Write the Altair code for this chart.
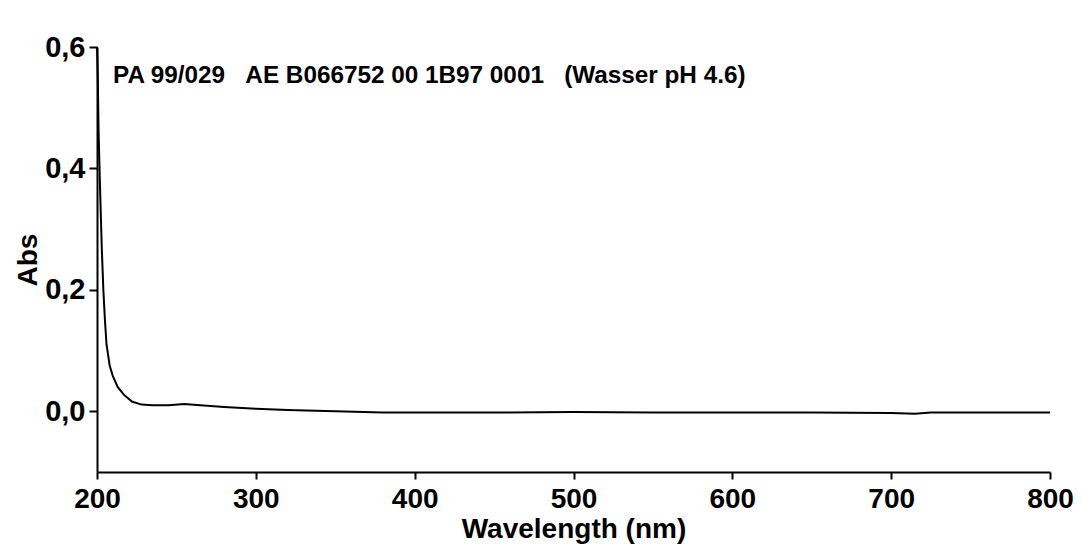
import altair as alt
import pandas as pd

wavelength = [200, 200.5, 201, 202, 203, 204, 205, 206, 208, 210, 213, 217, 222, 228,
              235, 245, 255, 265, 280, 300, 320, 350, 380, 400, 450, 500, 550, 600,
              650, 700, 715, 725, 735, 750, 800]
absorbance = [0.60, 0.55, 0.46, 0.36, 0.27, 0.20, 0.15, 0.11, 0.075, 0.058, 0.040, 0.027,
              0.016, 0.011, 0.010, 0.010, 0.012, 0.010, 0.007, 0.004, 0.002, 0.000,
              -0.002, -0.002, -0.002, -0.001, -0.002, -0.002, -0.002, -0.003, -0.004,
              -0.002, -0.002, -0.002, -0.002]

x_ticks = [200, 300, 400, 500, 600, 700, 800]
y_ticks = [0.0, 0.2, 0.4, 0.6]
label_text = ["PA 99/029\u00a0\u00a0\u00a0AE B066752 00 1B97 0001\u00a0\u00a0\u00a0(Wasser pH 4.6)"]

df = pd.DataFrame({"wl": wavelength, "abs": absorbance})
lab = pd.DataFrame({"t": label_text})

FONT = "Liberation Sans"

line = alt.Chart(df).mark_line(color="black", strokeWidth=2).encode(
    x=alt.X("wl:Q",
            scale=alt.Scale(domain=[200, 800], nice=False, zero=False),
            axis=alt.Axis(values=x_ticks, title="Wavelength (nm)", format="d",
                          labelFontSize=28, titleFontSize=28, labelPadding=6,
                          labelFlush=False, labelOverlap=False,
                          titlePadding=2, tickSize=7, grid=False)),
    y=alt.Y("abs:Q",
            scale=alt.Scale(domain=[-0.1, 0.6], nice=False, zero=False),
            axis=alt.Axis(values=y_ticks, title="Abs",
                          labelExpr="replace(format(datum.value, '.1f'), '.', ',')",
                          labelFontSize=29, titleFontSize=28, labelPadding=4,
                          labelFlush=False, labelOverlap=False,
                          titlePadding=2, tickSize=8, grid=False)),
)

text = alt.Chart(lab).mark_text(
    align="left", baseline="alphabetic", font=FONT, fontWeight="bold",
    fontSize=24.3, color="black"
).encode(x=alt.value(16), y=alt.value(36), text="t:N")

chart = alt.layer(line, text).properties(
    width=953, height=425,
    autosize=alt.AutoSizeParams(type="none"),
    padding={"left": 89, "top": 39, "right": 24, "bottom": 80},
).configure_view(stroke=None).configure_axis(
    labelFont=FONT, titleFont=FONT, labelFontWeight="bold", titleFontWeight="bold",
    labelColor="black", titleColor="black", domainColor="black", tickColor="black",
    domainWidth=2, tickWidth=2,
)

chart.save("out.html", embed_options={"renderer": "svg", "actions": False})
